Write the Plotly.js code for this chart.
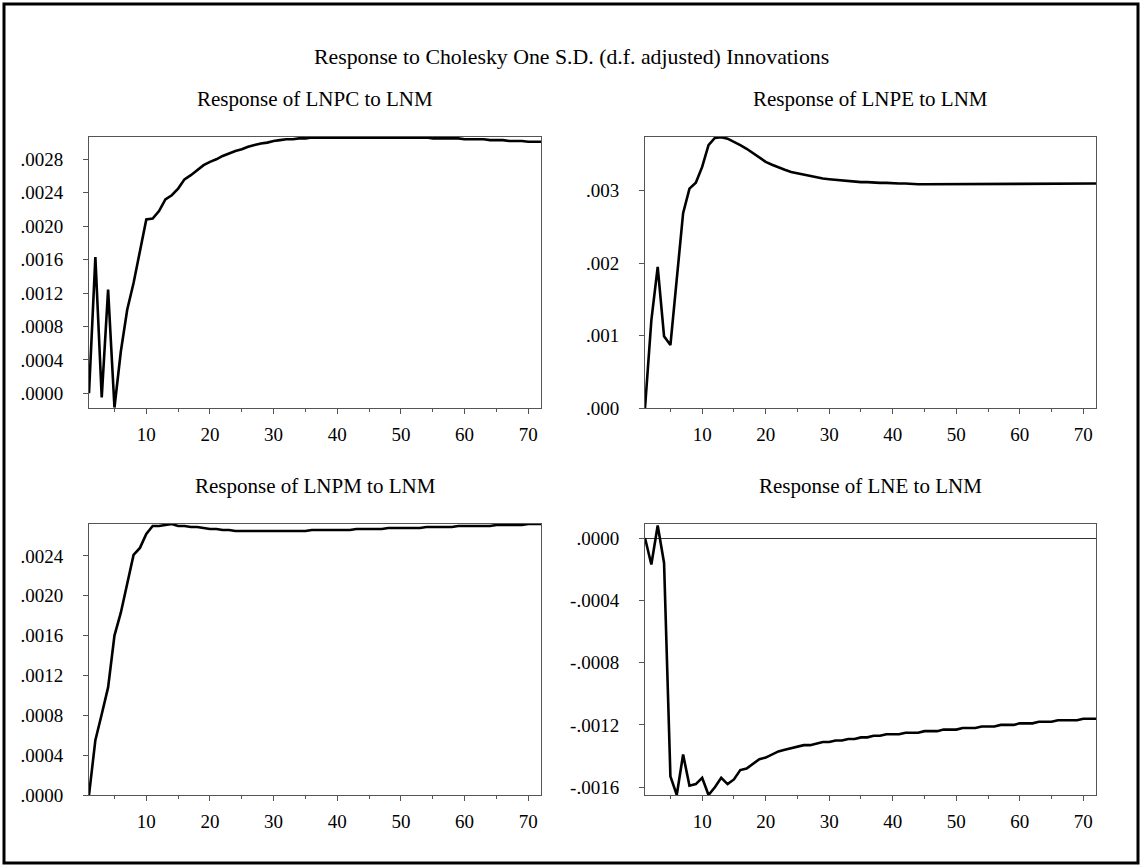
<!DOCTYPE html>
<html>
<head>
<meta charset="utf-8">
<script src="https://cdn.plot.ly/plotly-3.0.1.min.js"></script>
<style>html,body{margin:0;padding:0;background:#fff;}#chart{width:1144px;height:866px;}</style>
</head>
<body>
<div id="chart"></div>
<script>
const periods = Array.from({length: 72}, (_, i) => i + 1);

const lnpc = [0.00000,0.00163,-0.00005,0.00124,-0.00017,0.00050,0.00100,0.00132,0.00170,0.00208,
  0.00209,0.00218,0.00232,0.00237,0.00245,0.00256,0.00261,0.00267,0.00273,0.00277,
  0.00280,0.00284,0.00287,0.00290,0.00292,0.00295,0.00297,0.00299,0.00300,0.00302,
  0.00303,0.00304,0.00304,0.00305,0.00305,0.00306,0.00306,0.00306,0.00306,0.00306,
  0.003065,0.003065,0.003065,0.003065,0.003065,0.003065,0.003065,0.003065,0.003065,0.003065,
  0.00306,0.00306,0.00306,0.00306,0.00305,0.00305,0.00305,0.00305,0.00305,0.00304,
  0.00304,0.00304,0.00304,0.00303,0.00303,0.00303,0.00302,0.00302,0.00302,0.00301,
  0.00301,0.00301];

const lnpe = [0.00000,0.00121,0.00195,0.00099,0.00087,0.00180,0.00269,0.00303,0.00311,0.00333,
  0.00363,0.00373,0.00374,0.00372,0.00368,0.00363,0.00358,0.00352,0.00346,0.00340,
  0.00336,0.00332,0.00329,0.00326,0.00324,0.00322,0.00320,0.00319,0.00317,0.00316,
  0.00315,0.00314,0.00313,0.00313,0.00312,0.00312,0.00311,0.00311,0.00311,0.00310,
  0.00310,0.00310,0.00309,0.00309,0.00309,0.00309,0.00309,0.00309,0.00309,0.00309,
  0.00309,0.00309,0.00309,0.00309,0.00309,0.00309,0.00309,0.00309,0.00309,0.00309,
  0.00309,0.00309,0.00309,0.00309,0.00310,0.00310,0.00310,0.00310,0.00310,0.00310,
  0.00310,0.00310];

const lnpm = [0.00000,0.00055,0.00081,0.00108,0.00160,0.00183,0.00212,0.00241,0.00248,0.00262,
  0.00270,0.00270,0.00271,0.00272,0.00270,0.00270,0.00269,0.00269,0.00268,0.00267,
  0.00267,0.00266,0.00266,0.00265,0.00265,0.00265,0.00265,0.00265,0.00265,0.00265,
  0.00265,0.00265,0.00265,0.00265,0.00265,0.00266,0.00266,0.00266,0.00266,0.00266,
  0.00266,0.00266,0.00267,0.00267,0.00267,0.00267,0.00267,0.00268,0.00268,0.00268,
  0.00268,0.00268,0.00268,0.00269,0.00269,0.00269,0.00269,0.00269,0.00270,0.00270,
  0.00270,0.00270,0.00270,0.00270,0.00271,0.00271,0.00271,0.00271,0.00271,0.00272,
  0.00272,0.00272];

const lne = [0.00000,-0.00017,0.00008,-0.00016,-0.00153,-0.00165,-0.00139,-0.00159,-0.00158,-0.00154,
  -0.00165,-0.00160,-0.00154,-0.00158,-0.00155,-0.00149,-0.00148,-0.00145,-0.00142,-0.00141,
  -0.00139,-0.00137,-0.00136,-0.00135,-0.00134,-0.00133,-0.00133,-0.00132,-0.00131,-0.00131,
  -0.00130,-0.00130,-0.00129,-0.00129,-0.00128,-0.00128,-0.00127,-0.00127,-0.00126,-0.00126,
  -0.00126,-0.00125,-0.00125,-0.00125,-0.00124,-0.00124,-0.00124,-0.00123,-0.00123,-0.00123,
  -0.00122,-0.00122,-0.00122,-0.00121,-0.00121,-0.00121,-0.00120,-0.00120,-0.00120,-0.00119,
  -0.00119,-0.00119,-0.00118,-0.00118,-0.00118,-0.00117,-0.00117,-0.00117,-0.00117,-0.00116,
  -0.00116,-0.00116];

const mainTitle = "Response to Cholesky One S.D. (d.f. adjusted) Innovations";
const panelTitles = ["Response of LNPC to LNM", "Response of LNPE to LNM", "Response of LNPM to LNM", "Response of LNE to LNM"];

const yTicks1 = [0, 0.0004, 0.0008, 0.0012, 0.0016, 0.0020, 0.0024, 0.0028];
const yLabels1 = [".0000", ".0004", ".0008", ".0012", ".0016", ".0020", ".0024", ".0028"];
const yTicks2 = [0, 0.001, 0.002, 0.003];
const yLabels2 = [".000", ".001", ".002", ".003"];
const yTicks3 = [0, 0.0004, 0.0008, 0.0012, 0.0016, 0.0020, 0.0024];
const yLabels3 = [".0000", ".0004", ".0008", ".0012", ".0016", ".0020", ".0024"];
const yTicks4 = [0, -0.0004, -0.0008, -0.0012, -0.0016];
const yLabels4 = [".0000", "-.0004", "-.0008", "-.0012", "-.0016"];

const FONT = "Liberation Serif, Times New Roman, serif";
const lineStyle = {color: '#000', width: 2.6};

const traces = [
  {x: periods, y: lnpc, xaxis: 'x', yaxis: 'y', mode: 'lines', line: lineStyle},
  {x: periods, y: lnpe, xaxis: 'x2', yaxis: 'y2', mode: 'lines', line: lineStyle},
  {x: periods, y: lnpm, xaxis: 'x3', yaxis: 'y3', mode: 'lines', line: lineStyle},
  {x: periods, y: lne, xaxis: 'x4', yaxis: 'y4', mode: 'lines', line: lineStyle}
];

const W = 1144, H = 866;
function xd(l, r) { return [l / W, r / W]; }
function yd(t, b) { return [1 - b / H, 1 - t / H]; }

function xax(dom, anchor) {
  return {
    domain: dom, anchor: anchor, range: [1, 72],
    showline: true, mirror: true, linecolor: '#555', linewidth: 1,
    showgrid: false, zeroline: false,
    tickmode: 'linear', tick0: 0, dtick: 10,
    ticks: 'outside', ticklen: 5, tickcolor: '#555', tickwidth: 1,
    minor: {tick0: 0, dtick: 5, ticks: 'outside', ticklen: 3, tickcolor: '#555', showgrid: false},
    tickfont: {family: FONT, size: 19, color: '#000'},
    ticklabelstandoff: 4
  };
}
function yax(dom, anchor, range, vals, labels, zero) {
  return {
    domain: dom, anchor: anchor, range: range,
    showline: true, mirror: true, linecolor: '#555', linewidth: 1,
    showgrid: false, zeroline: !!zero, zerolinecolor: '#333', zerolinewidth: 1,
    tickmode: 'array', tickvals: vals, ticktext: labels,
    ticks: 'outside', ticklen: 5, tickcolor: '#555', tickwidth: 1,
    tickfont: {family: FONT, size: 19, color: '#000'},
    ticklabelstandoff: 16
  };
}

const L1 = 89, R1 = 541, L2 = 645, R2 = 1096;
const T1 = 137, B1 = 408, T2 = 524, B2 = 795;

const layout = {
  width: W, height: H,
  margin: {l: 0, r: 0, t: 0, b: 0},
  paper_bgcolor: '#fff', plot_bgcolor: '#fff',
  showlegend: false,
  font: {family: FONT, color: '#000'},
  xaxis: xax(xd(L1, R1), 'y'),
  yaxis: yax(yd(T1, B1), 'x', [-0.000176, 0.003067], yTicks1, yLabels1),
  xaxis2: xax(xd(L2, R2), 'y2'),
  yaxis2: yax(yd(T1, B1), 'x2', [0, 0.003743], yTicks2, yLabels2),
  xaxis3: xax(xd(L1, R1), 'y3'),
  yaxis3: yax(yd(T2, B2), 'x3', [0, 0.00272], yTicks3, yLabels3),
  xaxis4: xax(xd(L2, R2), 'y4'),
  yaxis4: yax(yd(T2, B2), 'x4', [-0.00165, 0.00009], yTicks4, yLabels4, true),
  annotations: [
    {text: mainTitle, xref: 'paper', yref: 'paper', x: 571 / W, y: 1 - 57 / H, showarrow: false, xanchor: 'center', yanchor: 'middle', font: {family: FONT, size: 21.8, color: '#000'}},
    {text: panelTitles[0], xref: 'paper', yref: 'paper', x: (L1 + R1) / 2 / W, y: 1 - 99 / H, showarrow: false, xanchor: 'center', yanchor: 'middle', font: {family: FONT, size: 21, color: '#000'}},
    {text: panelTitles[1], xref: 'paper', yref: 'paper', x: (L2 + R2) / 2 / W, y: 1 - 99 / H, showarrow: false, xanchor: 'center', yanchor: 'middle', font: {family: FONT, size: 21, color: '#000'}},
    {text: panelTitles[2], xref: 'paper', yref: 'paper', x: (L1 + R1) / 2 / W, y: 1 - 486 / H, showarrow: false, xanchor: 'center', yanchor: 'middle', font: {family: FONT, size: 21, color: '#000'}},
    {text: panelTitles[3], xref: 'paper', yref: 'paper', x: (L2 + R2) / 2 / W, y: 1 - 486 / H, showarrow: false, xanchor: 'center', yanchor: 'middle', font: {family: FONT, size: 21, color: '#000'}}
  ],
  shapes: [
    {type: 'rect', xref: 'paper', yref: 'paper', x0: 4 / W, x1: 1138 / W, y0: 1 - 863 / H, y1: 1 - 4 / H, line: {color: '#000', width: 3}}
  ]
};

Plotly.newPlot('chart', traces, layout, {displayModeBar: false, staticPlot: true});
</script>
</body>
</html>
